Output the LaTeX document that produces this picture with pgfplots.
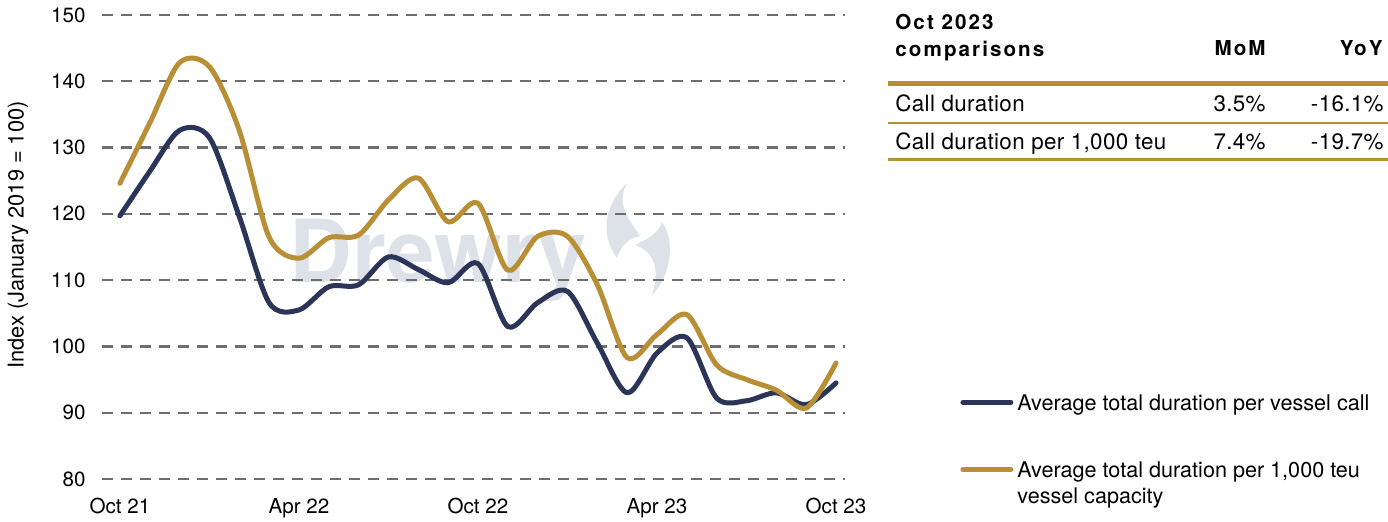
\documentclass[border=0pt]{standalone}
\usepackage{pgfplots}
\pgfplotsset{compat=1.18}
\usepackage{fontspec}
\setmainfont{TeX Gyre Heros}
\newfontfamily\hdr[LetterSpace=10]{TeX Gyre Heros}
\newfontfamily\tbl[LetterSpace=1.5]{TeX Gyre Heros}
\definecolor{navy}{HTML}{2A3557}
\definecolor{gold}{HTML}{B98F35}
\definecolor{gridc}{HTML}{6E6E6E}
\definecolor{wm}{HTML}{DDE2E9}
\begin{document}
\fontsize{10.3}{13}\selectfont
\begin{tikzpicture}
\path[use as bounding box] (0,0) rectangle (694pt,261pt);
\begin{scope}[shift={(0pt,261pt)},x=0.5pt,y=-0.5pt]
% watermark
\node[anchor=base, text=wm, font=\fontsize{43.5}{44}\selectfont\bfseries, inner sep=0pt] at (438,283) {Drewry};
\fill[wm] (627,183) .. controls (604,205) and (600,235) .. (617,258) .. controls (622,242) and (632,238) .. (640,236) .. controls (630,220) and (615,205) .. (627,183) -- cycle;
\fill[wm] (662,222) .. controls (675,240) and (672,275) .. (652,295) .. controls (660,270) and (655,252) .. (635,245) .. controls (645,240) and (658,235) .. (662,222) -- cycle;
% table
\node[anchor=base west, inner sep=0pt, font=\hdr\bfseries] at (895,30) {Oct 2023};
\node[anchor=base west, inner sep=0pt, font=\hdr\bfseries] at (895,57) {comparisons};
\node[anchor=base east, inner sep=0pt, font=\hdr\bfseries] at (1266,56) {MoM};
\node[anchor=base east, inner sep=0pt, font=\hdr\bfseries] at (1383,56) {YoY};
\draw[gold, line width=2.5pt] (888,83.5) -- (1388,83.5);
\begin{scope}[every node/.style={inner sep=0pt, font=\tbl\fontsize{11.2}{13}\selectfont}]
\node[anchor=base west] at (895,112) {Call duration};
\node[anchor=base east] at (1266,112) {3.5\%};
\node[anchor=base east] at (1384,112) {-16.1\%};
\node[anchor=base west] at (895,150) {Call duration per 1,000 teu};
\node[anchor=base east] at (1266,150) {7.4\%};
\node[anchor=base east] at (1384,150) {-19.7\%};
\end{scope}
\draw[gold, line width=1.3pt] (888,123) -- (1388,123);
\draw[gold, line width=1.3pt] (888,159.5) -- (1388,159.5);
\end{scope}
\begin{axis}[
  at={(51pt,21.5pt)}, anchor=south west,
  scale only axis, width=371.5pt, height=232pt,
  xmin=-0.6, xmax=24.3, ymin=80, ymax=150,
  ytick={80,90,...,150},
  xtick={0,6,12,18,24},
  xticklabels={Oct 21,Apr 22,Oct 22,Apr 23,Oct 23},
  axis line style={draw=none},
  major tick length=0pt,
  ymajorgrids,
  grid style={gridc, line width=1.1pt, dash pattern=on 5.5pt off 4pt},
  /pgf/number format/assume math mode=true,
  tick label style={font=\fontsize{10.3}{12}\selectfont},
  yticklabel style={xshift=-4.6pt},
  xticklabel style={yshift=-6pt},
  ylabel={Index (January 2019 = 100)},
  every axis y label/.style={at={(rel axis cs:0,0.5)}, anchor=center, xshift=-42pt, yshift=6pt, rotate=90, font=\fontsize{10.9}{12}\selectfont},
  legend style={at={(1.1548,0.185)}, anchor=north west, draw=none, fill=none, inner sep=0pt,
    row sep=22pt, column sep=1.5pt, cells={anchor=base west}, nodes={inner sep=0.5pt},
    font=\fontsize{10.8}{13}\selectfont},
  legend image code/.code={\draw[#1, line width=2.5pt, line cap=round] (1.25pt,4pt) -- (25.25pt,4pt);},
]
\addplot[navy, line width=2.5pt, smooth, line cap=round, line join=round] coordinates {
(0,119.7) (1,126.4) (2,132.6) (3,131.5) (4,119.6) (5,106.6) (6,105.5) (7,109.0) (8,109.3) (9,113.5) (10,111.6) (11,109.6) (12,112.5) (13,103.0) (14,106.6) (15,108.3) (16,100.5) (17,93.0) (18,99.0) (19,101.3) (20,92.2) (21,91.8) (22,93.0) (23,91.2) (24,94.5)};
\addlegendentry{Average total duration per vessel call}
\addplot[gold, line width=2.5pt, smooth, line cap=round, line join=round] coordinates {
(0,124.6) (1,133.7) (2,142.8) (3,142.2) (4,132.6) (5,116.5) (6,113.3) (7,116.4) (8,116.8) (9,122.1) (10,125.4) (11,118.8) (12,121.6) (13,111.5) (14,116.6) (15,116.6) (16,109.3) (17,98.3) (18,101.8) (19,104.8) (20,97.2) (21,95.0) (22,93.4) (23,90.7) (24,97.5)};
\addlegendentry{\begin{tabular}[t]{@{}l@{}}Average total duration per 1,000 teu\\vessel capacity\end{tabular}}
\end{axis}
\end{tikzpicture}
\end{document}
